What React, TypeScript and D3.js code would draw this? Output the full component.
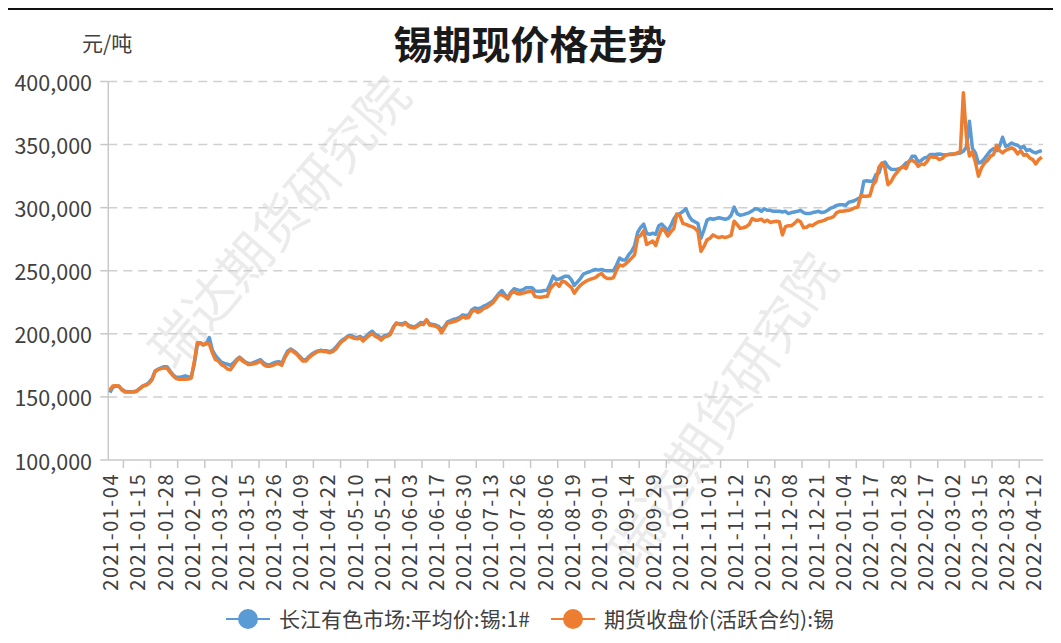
import React from "react";
import * as d3 from "d3";

// 锡期现价格走势
const title = "锡期现价格走势";
const unitLabel = "元/吨";
const watermark = "瑞达期货研究院";
const seriesNames = ["长江有色市场:平均价:锡:1#", "期货收盘价(活跃合约):锡"];
const seriesColors = ["#5B9BD5", "#ED7D31"];
const yTicks = [100000, 150000, 200000, 250000, 300000, 350000, 400000];

// exchange closed on these weekdays
const holidays = [
  "2021-01-01", "2021-02-11", "2021-02-12", "2021-02-15", "2021-02-16", "2021-02-17",
  "2021-04-05", "2021-05-03", "2021-05-04", "2021-05-05", "2021-06-14",
  "2021-09-20", "2021-09-21", "2021-10-01", "2021-10-04", "2021-10-05", "2021-10-06", "2021-10-07",
  "2022-01-03", "2022-01-31", "2022-02-01", "2022-02-02", "2022-02-03", "2022-02-04",
  "2022-04-04", "2022-04-05",
];
const firstDay = "2021-01-04";
const labelEvery = 9;

// 长江有色市场:平均价:锡:1#
const spotPrice = [
  153500, 157500, 158500, 158500, 156000, 154500, 154000, 154000, 154200, 155000,
  157000, 158800, 159800, 161500, 164500, 170500, 172000, 173000, 174000, 174000,
  170500, 167500, 165500, 165500, 166000, 166700, 166000, 165500, 176000, 191000,
  193000, 191500, 192000, 197000, 187000, 183000, 180000, 177500, 176500, 176000,
  175000, 177000, 179500, 181500, 179500, 177500, 176500, 176500, 177500, 178500,
  179500, 177000, 175500, 175500, 176500, 177500, 178000, 176500, 182000, 186500,
  188000, 186500, 184500, 182000, 179500, 179500, 182000, 184000, 185500, 186500,
  187000, 186500, 186500, 186000, 187000, 189500, 192500, 195000, 196500, 198500,
  198500, 197500, 197000, 198000, 196000, 198000, 200500, 202000, 199500, 198500,
  196500, 198500, 199000, 200500, 205500, 208500, 208000, 208000, 209000, 207000,
  206000, 205500, 207000, 209000, 208500, 211000, 208000, 207500, 207000, 206000,
  203000, 206000, 209500, 210500, 211500, 212000, 213000, 215000, 214500, 215000,
  219000, 220500, 220000, 220500, 222000, 223000, 224500, 226000, 229000, 232000,
  234300, 231000, 229000, 233000, 235700, 235000, 234300, 235000, 236500, 236500,
  236500, 234000, 233800, 233800, 234300, 234500, 239700, 245700, 243000, 243500,
  244600, 245700, 245700, 243000, 238400, 241000, 243800, 247300, 248400, 249200,
  250200, 251000, 250500, 251000, 250200, 250000, 250000, 250000, 254600, 260000,
  258600, 258600, 262500, 265400, 270000, 280300, 284300, 287000, 279500, 278900,
  279700, 278900, 285700, 287000, 284300, 281600, 285700, 291000, 294500, 295300,
  297000, 299200, 293500, 290100, 288800, 287500, 275800, 282300, 290100, 291400,
  290800, 291400, 292000, 291400, 290800, 291400, 294000, 300500, 295300, 294000,
  294500, 295300, 296100, 297500, 299200, 298700, 297100, 299200, 297900, 297900,
  297100, 297100, 297100, 296600, 297100, 295300, 296100, 296600, 297100, 297900,
  296100, 295300, 295300, 296100, 296600, 297100, 296100, 296600, 297900, 299700,
  300500, 301800, 302300, 302300, 301800, 304400, 304900, 305700, 307000, 308300,
  321000, 321400, 321000, 320900, 326200, 327500, 335000, 336200, 332500, 330500,
  330200, 330500, 331000, 332800, 335400, 336200, 340700, 340700, 336500, 337300,
  339400, 340000, 342100, 342100, 342300, 342600, 342100, 341800, 342100, 342600,
  342600, 343000, 343400, 344700, 348000, 368500, 347000, 343400, 335400, 336200,
  338900, 342100, 345200, 346800, 345200, 348700, 355800, 348700, 349500, 351300,
  350000, 349500, 347400, 348700, 345200, 346000, 344200, 343400, 344500, 345200,
];

// 期货收盘价(活跃合约):锡
const futuresPrice = [
  155400, 158600, 158800, 158600, 155500, 153900, 153800, 153800, 153900, 154500,
  156500, 158600, 159200, 160800, 163500, 170000, 171600, 172400, 173000, 172800,
  169400, 166700, 164600, 164000, 164000, 164000, 164200, 165000, 178000, 193000,
  192800, 191000, 192800, 191800, 185000, 179700, 178400, 175600, 174300, 172100,
  171600, 175000, 178400, 181000, 178500, 177000, 175600, 175800, 176500, 177000,
  178400, 175600, 174300, 174300, 175000, 176000, 176500, 175000, 181000, 185000,
  187300, 185500, 183800, 181000, 178400, 178400, 181000, 183000, 184600, 186000,
  186500, 186000, 185800, 185000, 186000, 188000, 191500, 194000, 195600, 198000,
  197500, 196400, 196000, 196900, 194300, 196500, 198700, 200300, 198000, 197000,
  195000, 197500, 198000, 199500, 204700, 208500, 207500, 207000, 208500, 206000,
  205000, 204700, 206000, 207800, 207300, 211000, 207000, 206500, 206000, 204700,
  200800, 204700, 208500, 209000, 209800, 210300, 211700, 213700, 212500, 213000,
  217600, 218800, 217000, 218200, 220200, 221000, 222800, 224500, 227600, 231000,
  231000, 229500, 227600, 232000, 233500, 232000, 231600, 232300, 233000, 233500,
  233800, 229500, 229200, 229000, 229500, 229500, 235700, 238400, 240300, 237700,
  241900, 241000, 238800, 236900, 232200, 235700, 238400, 240300, 241900, 243000,
  243800, 244600, 246500, 247800, 245100, 243800, 243800, 244600, 250500, 254600,
  253800, 255400, 257500, 260000, 262700, 276200, 278000, 281600, 270800, 272200,
  273500, 270000, 277600, 283500, 281600, 277600, 280800, 283500, 295000, 293700,
  287500, 286800, 285700, 285000, 283600, 281000, 265400, 269300, 274500, 275800,
  278400, 277100, 276300, 277100, 276300, 277100, 278000, 289300, 286500, 283600,
  284100, 284900, 286800, 291400, 290100, 290100, 290900, 288800, 290100, 288300,
  288800, 289300, 288800, 278400, 284900, 285700, 285700, 287500, 290100, 288800,
  284100, 284500, 286200, 285700, 287500, 288800, 289300, 290100, 291400, 291900,
  293000, 296100, 297100, 297100, 297500, 297900, 298700, 300000, 300500, 309600,
  309000, 309000, 309500, 318000, 321000, 332000, 335400, 331500, 318200, 320500,
  325000, 328000, 331000, 332800, 331000, 337000, 337500, 336200, 332800, 334700,
  334100, 336800, 340700, 340000, 340000, 338100, 339000, 341500, 342100, 342100,
  342600, 343400, 344500, 391000, 356000, 341000, 344200, 336000, 324900, 331500,
  335400, 337500, 340700, 342100, 349500, 345200, 343400, 345500, 346500, 347400,
  346000, 342600, 345200, 341500, 342100, 339400, 338100, 334700, 338100, 340000,
];

function tradingDays(start: string, count: number, closed: string[]) {
  const skip = new Set(closed);
  const out: string[] = [];
  const d = new Date(start + "T00:00:00Z");
  while (out.length < count) {
    const key = d.toISOString().slice(0, 10);
    const wd = d.getUTCDay();
    if (wd !== 0 && wd !== 6 && !skip.has(key)) out.push(key);
    d.setUTCDate(d.getUTCDate() + 1);
  }
  return out;
}

const categories = tradingDays(firstDay, futuresPrice.length, holidays);

const W = 1061;
const H = 643;
const margin = { top: 81.5, right: 17.7, bottom: 183, left: 108.3 };
const font = "'Noto Sans CJK SC', 'Noto Sans', sans-serif";
const textColor = "#404040";
const axisColor = "#c8c8c8";

export default function App() {
  const x = d3
    .scaleBand<string>()
    .domain(categories)
    .range([margin.left, W - margin.right]);
  const y = d3
    .scaleLinear()
    .domain([100000, 400000])
    .range([H - margin.bottom, margin.top]);

  const cx = (d: string) => (x(d) as number) + x.bandwidth() / 2;
  const series = [spotPrice, futuresPrice];
  const line = d3
    .line<number>()
    .x((_, i) => cx(categories[i]))
    .y((v) => y(v));

  const x0 = margin.left;
  const x1 = W - margin.right;
  const yBase = H - margin.bottom;
  const labelIdx = categories.map((_, i) => i).filter((i) => i % labelEvery === 0);
  const tickIdx = categories
    .map((_, i) => i)
    .filter((i) => i % labelEvery === 5);

  return (
    <svg
      width={W}
      height={H}
      style={{ position: "absolute", left: 0, top: 0, background: "#fff" }}
      fontFamily={font}
    >
      <rect width={W} height={H} fill="#fff" />
      <line x1={8} x2={W - 8} y1={9} y2={9} stroke="#111" strokeWidth={2} />

      {/* watermark */}
      <g fill="#ebebeb" fontSize={52} textAnchor="middle" dominantBaseline="central">
        <text transform="translate(277,220) rotate(-49)">{watermark}</text>
        <text transform="translate(720,408) rotate(-56)">{watermark}</text>
      </g>

      {/* grid */}
      {yTicks.map((t) => (
        <g key={t}>
          {t > 100000 && (
            <line
              x1={x0}
              x2={x1}
              y1={y(t)}
              y2={y(t)}
              stroke="#d0d0d0"
              strokeWidth={1.5}
              strokeDasharray="9,6"
            />
          )}
          <line x1={x0 - 8} x2={x0} y1={y(t)} y2={y(t)} stroke={axisColor} strokeWidth={1.5} />
          <text
            x={92}
            y={y(t)}
            textAnchor="end"
            dominantBaseline="central"
            fontSize={21.5}
            fill={textColor}
          >
            {d3.format(",")(t)}
          </text>
        </g>
      ))}

      {/* axes */}
      <line x1={x0} x2={x0} y1={y(400000)} y2={yBase} stroke={axisColor} strokeWidth={1.5} />
      <line x1={x0} x2={x1} y1={yBase} y2={yBase} stroke={axisColor} strokeWidth={1.5} />
      {tickIdx.map((i) => {
        const tx = x(categories[i]) as number;
        return (
          <line key={i} x1={tx} x2={tx} y1={yBase} y2={yBase + 8} stroke={axisColor} strokeWidth={1.5} />
        );
      })}
      {labelIdx.map((i) => (
        <text
          key={i}
          transform={`translate(${cx(categories[i])},${yBase + 13}) rotate(-90)`}
          textAnchor="end"
          dominantBaseline="central"
          fontSize={20}
          letterSpacing={1.5}
          fill={textColor}
        >
          {categories[i]}
        </text>
      ))}

      {/* series */}
      {series.map((s, k) => (
        <path
          key={k}
          d={line(s) || ""}
          fill="none"
          stroke={seriesColors[k]}
          strokeWidth={3.5}
          strokeLinejoin="round"
        />
      ))}

      {/* titles */}
      <text x={530} y={42} textAnchor="middle" dominantBaseline="central" fontSize={39} fontWeight="bold" fill="#1a1a1a">
        {title}
      </text>
      <text x={82} y={42} dominantBaseline="central" fontSize={21} fill={textColor}>
        {unitLabel}
      </text>

      {/* legend */}
      {[
        { lx: 226, tx: 279 },
        { lx: 551, tx: 604 },
      ].map((p, k) => (
        <g key={k}>
          <line x1={p.lx} x2={p.lx + 44} y1={619} y2={619} stroke={seriesColors[k]} strokeWidth={2} />
          <circle cx={p.lx + 22} cy={619} r={10} fill={seriesColors[k]} />
          <text x={p.tx} y={618} dominantBaseline="central" fontSize={21} fill={textColor}>
            {seriesNames[k]}
          </text>
        </g>
      ))}
    </svg>
  );
}
